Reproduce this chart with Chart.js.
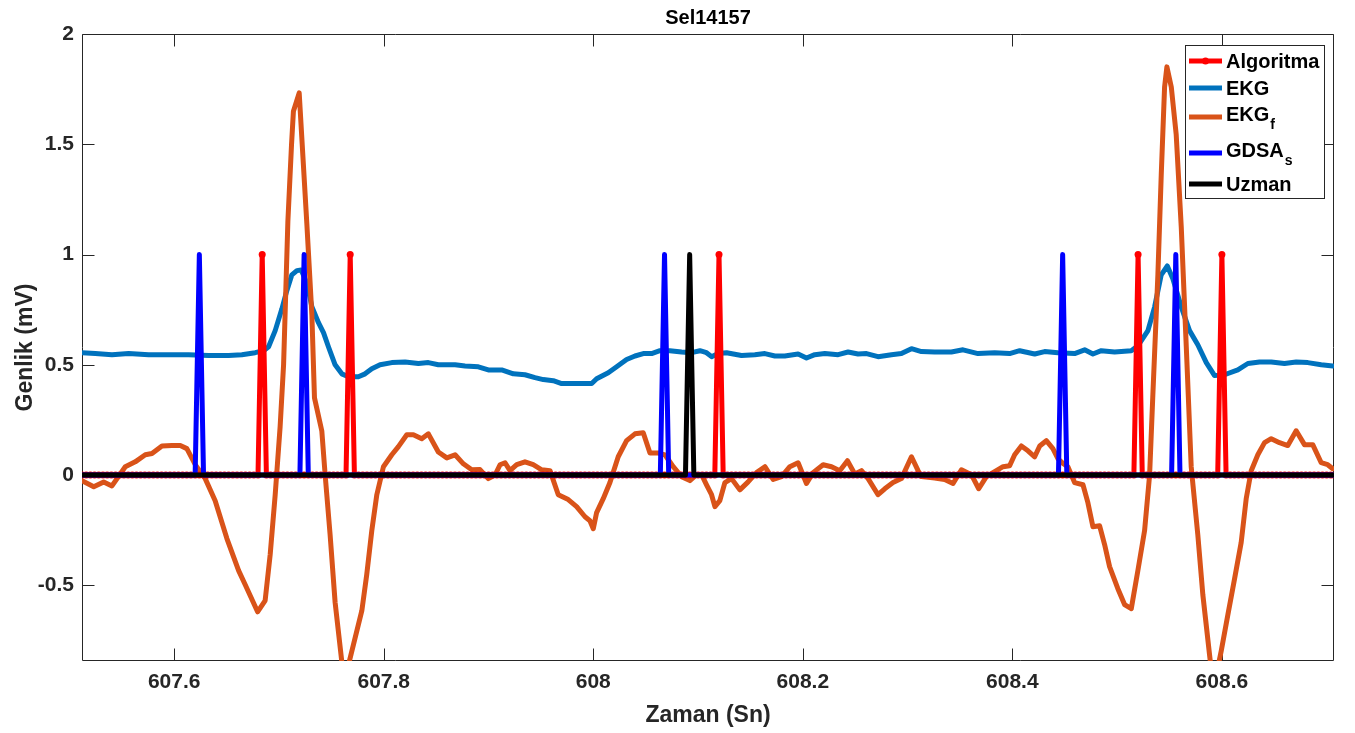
<!DOCTYPE html>
<html>
<head>
<meta charset="utf-8">
<script src="https://cdn.jsdelivr.net/npm/chart.js@4.4.1/dist/chart.umd.min.js"></script>
<style>
  html, body { margin: 0; padding: 0; background: #ffffff; }
  canvas { display: block; }
</style>
</head>
<body>
<canvas id="c" width="1355" height="733"></canvas>
<script>
// ---------------- data ----------------
const chartTitle = 'Sel14157';
const xAxisTitle = 'Zaman (Sn)';
const yAxisTitle = 'Genlik (mV)';
const xTicks = [607.6, 607.8, 608, 608.2, 608.4, 608.6];
const yTicks = [-0.5, 0, 0.5, 1, 1.5, 2];
const xLimits = [607.512, 608.707];
const yLimits = [-0.843, 2];

// sample grid of the detection signals (250 Hz)
const sampleStart = 607.512;
const sampleStep = 0.004;
const sampleCount = 300;

// detection spikes (value 1 at these times, 0 elsewhere)
const algoritmaPeaks = [607.684, 607.768, 608.12, 608.52, 608.6];
const gdsaPeaks = [607.624, 607.724, 608.068, 608.448, 608.556];
const uzmanPeaks = [608.092];

// EKG (raw)
const ekgTime = [607.512, 607.5247, 607.5406, 607.5565, 607.5756, 607.5947, 607.6138, 607.6328, 607.6519, 607.6646,
  607.6773, 607.6853, 607.6901, 607.6964, 607.7028, 607.7075, 607.7123, 607.7171, 607.7212, 607.7266,
  607.7314, 607.7377, 607.7425, 607.7472, 607.7536, 607.76, 607.7663, 607.7758, 607.7822, 607.7886,
  607.7965, 607.8077, 607.8204, 607.8331, 607.8426, 607.8521, 607.8681, 607.8776, 607.8903, 607.8998,
  607.9126, 607.9237, 607.9348, 607.9444, 607.9523, 607.9618, 607.9698, 607.9825, 607.9985, 608.0032,
  608.0143, 608.0223, 608.0318, 608.0398, 608.0477, 608.0557, 608.0636, 608.0731, 608.0843, 608.0938,
  608.1018, 608.1081, 608.1129, 608.1192, 608.1272, 608.1415, 608.1542, 608.1638, 608.1733, 608.1828,
  608.1955, 608.2035, 608.2114, 608.221, 608.2337, 608.2432, 608.2527, 608.2608, 608.2718, 608.2846,
  608.2941, 608.3037, 608.3132, 608.3259, 608.3418, 608.3529, 608.3672, 608.3831, 608.3974, 608.407,
  608.4213, 608.4308, 608.4435, 608.4594, 608.469, 608.4769, 608.4849, 608.4976, 608.5135, 608.5198,
  608.5294, 608.5358, 608.5421, 608.5479, 608.5532, 608.5612, 608.5691, 608.577, 608.5851, 608.593,
  608.6025, 608.6152, 608.6248, 608.6359, 608.6471, 608.6597, 608.6709, 608.682, 608.6948, 608.7058];
const ekgValue = [0.555, 0.551, 0.546, 0.551, 0.546, 0.546, 0.546, 0.542, 0.542, 0.546,
  0.555, 0.564, 0.582, 0.655, 0.754, 0.836, 0.908, 0.927, 0.93, 0.872,
  0.763, 0.691, 0.646, 0.582, 0.5, 0.459, 0.446, 0.446, 0.459, 0.482,
  0.5, 0.51, 0.513, 0.506, 0.51, 0.5, 0.5, 0.495, 0.491, 0.477,
  0.477, 0.459, 0.455, 0.442, 0.433, 0.428, 0.415, 0.415, 0.415, 0.437,
  0.464, 0.491, 0.524, 0.54, 0.551, 0.551, 0.564, 0.564, 0.558, 0.555,
  0.564, 0.555, 0.537, 0.551, 0.555, 0.542, 0.546, 0.551, 0.54, 0.54,
  0.549, 0.531, 0.546, 0.551, 0.546, 0.558, 0.549, 0.551, 0.537, 0.546,
  0.551, 0.573, 0.56, 0.558, 0.558, 0.568, 0.551, 0.555, 0.551, 0.564,
  0.549, 0.56, 0.555, 0.551, 0.568, 0.549, 0.564, 0.558, 0.564, 0.586,
  0.655, 0.763, 0.908, 0.948, 0.89, 0.763, 0.655, 0.591, 0.51, 0.451,
  0.455, 0.477, 0.506, 0.513, 0.513, 0.506, 0.513, 0.51, 0.5, 0.495];

// EKG_f (filtered)
const ekgfTime = [607.512, 607.5232, 607.5327, 607.5406, 607.5533, 607.5628, 607.5724, 607.5788, 607.5883, 607.5978,
  607.6058, 607.6121, 607.6201, 607.6296, 607.6391, 607.6503, 607.6615, 607.6678, 607.6796, 607.6868,
  607.6916, 607.6964, 607.7011, 607.7044, 607.7085, 607.712, 607.7138, 607.7193, 607.7266, 607.7314,
  607.7339, 607.7409, 607.7441, 607.7488, 607.7536, 607.7622, 607.7791, 607.7838, 607.7886, 607.7934,
  607.7997, 607.8077, 607.814, 607.822, 607.8283, 607.8363, 607.8426, 607.8521, 607.8602, 607.8681,
  607.876, 607.884, 607.8919, 607.8998, 607.9062, 607.911, 607.9158, 607.9205, 607.9269, 607.9348,
  607.9427, 607.9508, 607.9587, 607.9666, 607.9761, 607.9841, 607.9921, 607.9968, 608.0, 608.0032,
  608.0095, 608.0159, 608.0238, 608.0318, 608.0398, 608.0477, 608.0541, 608.062, 608.0684, 608.0763,
  608.0843, 608.0922, 608.0986, 608.1034, 608.1081, 608.1129, 608.1161, 608.1208, 608.1256, 608.132,
  608.1399, 608.1478, 608.1558, 608.1638, 608.1717, 608.1797, 608.1876, 608.1955, 608.2035, 608.2098,
  608.2194, 608.2274, 608.2353, 608.2426, 608.2496, 608.256, 608.2623, 608.2718, 608.2782, 608.2861,
  608.2941, 608.3037, 608.31, 608.3132, 608.3259, 608.3354, 608.3434, 608.3514, 608.3609, 608.3679,
  608.3752, 608.3831, 608.3911, 608.3974, 608.4022, 608.4086, 608.4149, 608.4213, 608.4261, 608.4324,
  608.4387, 608.4435, 608.4483, 608.453, 608.4594, 608.4674, 608.4721, 608.4769, 608.4833, 608.4881,
  608.4928, 608.5007, 608.5071, 608.5135, 608.5198, 608.5262, 608.531, 608.5341, 608.5389, 608.5421,
  608.5453, 608.5475, 608.5517, 608.5564, 608.5612, 608.566, 608.5707, 608.577, 608.5818, 608.5882,
  608.592, 608.5994, 608.6057, 608.6121, 608.6184, 608.6232, 608.628, 608.6343, 608.6407, 608.6471,
  608.655, 608.6629, 608.6709, 608.6788, 608.6867, 608.6948, 608.701, 608.7058];
const ekgfValue = [-0.025, -0.053, -0.031, -0.049, 0.038, 0.06, 0.092, 0.098, 0.132, 0.134,
  0.134, 0.12, 0.047, -0.016, -0.116, -0.288, -0.433, -0.497, -0.62, -0.569,
  -0.361, -0.089, 0.219, 0.5, 1.15, 1.5, 1.65, 1.733, 1.14, 0.727,
  0.35, 0.2, 0.0, -0.27, -0.578, -0.94, -0.615, -0.45, -0.252, -0.089,
  0.038, 0.092, 0.129, 0.183, 0.183, 0.165, 0.187, 0.105, 0.078, 0.092,
  0.051, 0.024, 0.025, -0.016, 0.0, 0.047, 0.056, 0.02, 0.047, 0.06,
  0.047, 0.024, 0.02, -0.089, -0.111, -0.143, -0.189, -0.207, -0.243, -0.17,
  -0.107, -0.034, 0.083, 0.156, 0.187, 0.192, 0.1, 0.1, 0.092, 0.038,
  -0.007, -0.025, 0.002, 0.002, -0.044, -0.089, -0.143, -0.116, -0.034, -0.016,
  -0.067, -0.031, 0.011, 0.038, -0.02, -0.007, 0.038, 0.056, -0.038, 0.011,
  0.047, 0.038, 0.02, 0.065, 0.005, 0.02, -0.016, -0.089, -0.062, -0.034,
  -0.016, 0.083, 0.02, -0.007, -0.013, -0.02, -0.038, 0.024, 0.002, -0.062,
  -0.007, 0.016, 0.038, 0.042, 0.092, 0.132, 0.11, 0.083, 0.132, 0.156,
  0.12, 0.074, 0.053, 0.038, -0.034, -0.044, -0.125, -0.234, -0.23, -0.316,
  -0.415, -0.515, -0.587, -0.606, -0.433, -0.252, 0.0, 0.364, 0.908, 1.36,
  1.76, 1.851, 1.76, 1.543, 1.126, 0.582, 0.038, -0.27, -0.542, -0.814,
  -0.97, -0.796, -0.633, -0.47, -0.306, -0.107, 0.02, 0.092, 0.147, 0.165,
  0.147, 0.134, 0.201, 0.138, 0.138, 0.056, 0.047, 0.029];

// ---------------- build library tables ----------------
function pairs(ts, vs) { return ts.map((t, i) => ({ x: t, y: vs[i] })); }
function isPeak(t, peaks) { return peaks.some(p => Math.abs(p - t) < 1e-6); }
function sampledSeries(peaks) {
  const out = [];
  for (let i = 0; i < sampleCount; i++) {
    const t = Math.round((sampleStart + i * sampleStep) * 1000) / 1000;
    out.push({ x: t, y: isPeak(t, peaks) ? 1 : 0 });
  }
  return out;
}
function spikeSeries(peaks) {
  const out = [{ x: xLimits[0], y: 0 }];
  peaks.forEach(p => {
    out.push({ x: p - sampleStep, y: 0 }, { x: p, y: 1 }, { x: p + sampleStep, y: 0 });
  });
  out.push({ x: xLimits[1], y: 0 });
  return out;
}

const FONT = '"Liberation Sans", Arial, Helvetica, sans-serif';
const TXT = '#262626';

const legendItems = [
  { label: 'Algoritma', sub: '', color: '#FF0000', marker: true, y: 61 },
  { label: 'EKG', sub: '', color: '#0072BD', marker: false, y: 88 },
  { label: 'EKG', sub: 'f', color: '#D95319', marker: false, y: 117 },
  { label: 'GDSA', sub: 's', color: '#0000FF', marker: false, y: 153 },
  { label: 'Uzman', sub: '', color: '#000000', marker: false, y: 184 }
];

const matlabAxes = {
  id: 'matlabAxes',
  beforeDatasetsDraw(chart) {
    const { ctx, chartArea: a, scales } = chart;
    const xs = scales.x, ys = scales.y;
    ctx.save();
    ctx.strokeStyle = TXT;
    ctx.lineWidth = 1;
    const L = Math.round(a.left) + 0.5, R = Math.round(a.right) - 0.5;
    const T = Math.round(a.top) + 0.5, B = Math.round(a.bottom) - 0.5;
    ctx.beginPath();
    ctx.moveTo(L, T); ctx.lineTo(R, T); ctx.lineTo(R, B); ctx.lineTo(L, B); ctx.closePath();
    ctx.stroke();
    const tl = 12;
    ctx.beginPath();
    xTicks.forEach(v => {
      const px = Math.round(xs.getPixelForValue(v)) + 0.5;
      ctx.moveTo(px, B); ctx.lineTo(px, B - tl);
      ctx.moveTo(px, T); ctx.lineTo(px, T + tl);
    });
    yTicks.forEach(v => {
      const py = Math.round(ys.getPixelForValue(v)) + 0.5;
      ctx.moveTo(L, py); ctx.lineTo(L + tl, py);
      ctx.moveTo(R, py); ctx.lineTo(R - tl, py);
    });
    ctx.stroke();
    ctx.restore();
  },
  afterDraw(chart) {
    const { ctx, chartArea: a } = chart;
    ctx.save();
    // title
    ctx.fillStyle = '#000000';
    ctx.font = 'bold 20px ' + FONT;
    ctx.textAlign = 'center';
    ctx.textBaseline = 'middle';
    ctx.fillText(chartTitle, (a.left + a.right) / 2, 18);
    // legend box
    const bx = 1185.5, by = 45.5, bw = 139, bh = 153;
    ctx.fillStyle = '#ffffff';
    ctx.fillRect(bx, by, bw, bh);
    ctx.strokeStyle = TXT;
    ctx.lineWidth = 1;
    ctx.strokeRect(bx, by, bw, bh);
    legendItems.forEach(it => {
      ctx.strokeStyle = it.color;
      ctx.lineWidth = 5;
      ctx.lineCap = 'butt';
      ctx.beginPath();
      ctx.moveTo(1189, it.y); ctx.lineTo(1222, it.y);
      ctx.stroke();
      if (it.marker) {
        ctx.fillStyle = it.color;
        ctx.beginPath();
        ctx.arc(1205.5, it.y, 3.5, 0, Math.PI * 2);
        ctx.fill();
      }
      ctx.fillStyle = '#000000';
      ctx.textAlign = 'left';
      ctx.textBaseline = 'alphabetic';
      ctx.font = 'bold 20px ' + FONT;
      const base = it.sub ? it.y + 4 : it.y + 7;
      ctx.fillText(it.label, 1226, base);
      if (it.sub) {
        const w = ctx.measureText(it.label).width;
        ctx.font = 'bold 14px ' + FONT;
        ctx.fillText(it.sub, 1226 + w + 1, base + 8);
      }
    });
    ctx.restore();
  }
};

const lineBase = {
  parsing: true,
  tension: 0,
  borderWidth: 5,
  pointRadius: 0,
  pointHoverRadius: 0,
  borderJoinStyle: 'round',
  borderCapStyle: 'round',
  fill: false,
  clip: 0
};

new Chart(document.getElementById('c'), {
  type: 'line',
  data: {
    datasets: [
      Object.assign({}, lineBase, { label: 'Uzman', data: spikeSeries(uzmanPeaks), borderColor: '#000000', order: 0 }),
      Object.assign({}, lineBase, { label: 'GDSA_s', data: spikeSeries(gdsaPeaks), borderColor: '#0000FF', order: 1 }),
      Object.assign({}, lineBase, { label: 'Algoritma', data: sampledSeries(algoritmaPeaks), borderColor: '#FF0000',
        pointRadius: 3.5, pointBackgroundColor: '#FF0000', pointBorderWidth: 0, order: 2 }),
      Object.assign({}, lineBase, { label: 'EKG_f', data: pairs(ekgfTime, ekgfValue), borderColor: '#D95319', order: 3 }),
      Object.assign({}, lineBase, { label: 'EKG', data: pairs(ekgTime, ekgValue), borderColor: '#0072BD', order: 4 })
    ]
  },
  options: {
    responsive: false,
    animation: false,
    devicePixelRatio: 1,
    events: [],
    layout: { padding: { left: 0, right: 21, top: 34, bottom: 0 } },
    plugins: { legend: { display: false }, tooltip: { enabled: false }, title: { display: false } },
    scales: {
      x: {
        type: 'linear',
        min: xLimits[0], max: xLimits[1],
        grid: { display: false, drawTicks: false },
        border: { display: false },
        afterBuildTicks: s => { s.ticks = xTicks.map(v => ({ value: v })); },
        afterFit: s => { s.height = 72; },
        ticks: {
          padding: 9, autoSkip: false, maxRotation: 0, color: TXT,
          font: { family: FONT, size: 21, weight: 'bold' },
          callback: v => String(+(+v).toFixed(1))
        },
        title: { display: true, text: xAxisTitle, color: TXT,
          font: { family: FONT, size: 23, weight: 'bold' }, padding: { top: 4, bottom: 4 } }
      },
      y: {
        type: 'linear',
        min: yLimits[0], max: yLimits[1],
        grid: { display: false, drawTicks: false },
        border: { display: false },
        afterBuildTicks: s => { s.ticks = yTicks.map(v => ({ value: v })); },
        afterFit: s => { s.width = 82; },
        ticks: {
          padding: 8, autoSkip: false, color: TXT,
          font: { family: FONT, size: 21, weight: 'bold' },
          callback: v => String(+(+v).toFixed(1))
        },
        title: { display: true, text: yAxisTitle, color: TXT,
          font: { family: FONT, size: 23, weight: 'bold' }, padding: { top: 12, bottom: 12 } }
      }
    }
  },
  plugins: [matlabAxes]
});
</script>
</body>
</html>
